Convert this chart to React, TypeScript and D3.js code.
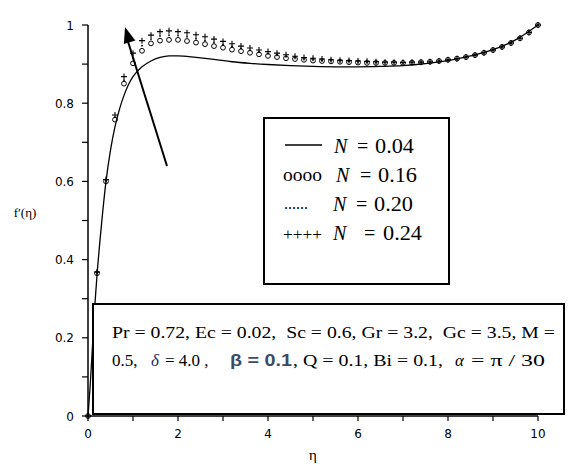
import React from "react";
import * as d3 from "d3";

// ---- data ----
const solidEta = [0, 0.05, 0.1, 0.15, 0.2, 0.3, 0.4, 0.5, 0.6, 0.7, 0.8, 0.9, 1.0, 1.2, 1.4, 1.6, 1.8, 2.0, 2.4, 2.8, 3.2, 3.6, 4.0, 4.5, 5.0, 5.5, 6.0, 6.5, 7.0, 7.5, 8.0, 8.5, 9.0, 9.5, 10];
const solidN004 = [0, 0.08, 0.18, 0.28, 0.36, 0.49, 0.6, 0.68, 0.74, 0.785, 0.82, 0.848, 0.868, 0.893, 0.908, 0.917, 0.921, 0.921, 0.917, 0.912, 0.906, 0.902, 0.899, 0.896, 0.894, 0.893, 0.893, 0.894, 0.896, 0.901, 0.909, 0.921, 0.937, 0.962, 1.0];

const markerEta = [0, 0.2, 0.4, 0.6, 0.8, 1.0, 1.2, 1.4, 1.6, 1.8, 2.0, 2.2, 2.4, 2.6, 2.8, 3.0, 3.2, 3.4, 3.6, 3.8, 4.0, 4.2, 4.4, 4.6, 4.8, 5.0, 5.2, 5.4, 5.6, 5.8, 6.0, 6.2, 6.4, 6.6, 6.8, 7.0, 7.2, 7.4, 7.6, 7.8, 8.0, 8.2, 8.4, 8.6, 8.8, 9.0, 9.2, 9.4, 9.6, 9.8, 10];
const circN016 = [0, 0.365, 0.6, 0.758, 0.85, 0.902, 0.934, 0.953, 0.96, 0.962, 0.962, 0.959, 0.955, 0.951, 0.946, 0.942, 0.937, 0.933, 0.929, 0.925, 0.921, 0.918, 0.915, 0.913, 0.911, 0.909, 0.908, 0.907, 0.906, 0.905, 0.904, 0.903, 0.903, 0.903, 0.903, 0.903, 0.904, 0.905, 0.906, 0.908, 0.911, 0.914, 0.918, 0.923, 0.929, 0.936, 0.944, 0.954, 0.966, 0.981, 1.0];
const dotN020 = [0, 0.366, 0.602, 0.764, 0.859, 0.915, 0.947, 0.964, 0.972, 0.974, 0.973, 0.97, 0.965, 0.96, 0.955, 0.95, 0.945, 0.94, 0.935, 0.931, 0.927, 0.923, 0.92, 0.917, 0.914, 0.912, 0.91, 0.909, 0.908, 0.907, 0.906, 0.905, 0.904, 0.904, 0.904, 0.903, 0.904, 0.905, 0.906, 0.908, 0.911, 0.914, 0.918, 0.923, 0.929, 0.936, 0.944, 0.954, 0.966, 0.981, 1.0];
const plusN024 = [0, 0.368, 0.605, 0.77, 0.868, 0.928, 0.96, 0.974, 0.983, 0.985, 0.983, 0.98, 0.975, 0.97, 0.964, 0.958, 0.952, 0.946, 0.941, 0.936, 0.932, 0.928, 0.924, 0.92, 0.917, 0.915, 0.913, 0.911, 0.91, 0.909, 0.908, 0.907, 0.906, 0.905, 0.905, 0.904, 0.905, 0.905, 0.906, 0.908, 0.911, 0.914, 0.918, 0.923, 0.929, 0.936, 0.944, 0.954, 0.966, 0.981, 1.0];

const xTicks = [0, 2, 4, 6, 8, 10];
const xMinor = [1, 3, 5, 7, 9];
const yTicks = [0, 0.2, 0.4, 0.6, 0.8, 1];
const yMinor = [0.1, 0.3, 0.5, 0.7, 0.9];

const legendLabels = ["0.04", "0.16", "0.20", "0.24"];

// ---- layout ----
const W = 578, H = 471;
const x = d3.scaleLinear().domain([0, 10]).range([88, 538]);
const y = d3.scaleLinear().domain([0, 1]).range([416, 25]);

const serif = "Liberation Serif, Times New Roman, Times, serif";
const sans = "DejaVu Sans, Verdana, sans-serif";

export default function App() {
  const line = d3.line<number>().x((_, i) => x(solidEta[i])).y((d) => y(d)).curve(d3.curveMonotoneX);
  const arrowHead = (() => {
    const tx = 125, ty = 27, sx = 167, sy = 166;
    const ang = Math.atan2(sy - ty, sx - tx);
    const L = 16, hw = 6;
    const bx = tx + L * Math.cos(ang), by = ty + L * Math.sin(ang);
    const px = -Math.sin(ang) * hw, py = Math.cos(ang) * hw;
    return `M${tx},${ty}L${bx + px},${by + py}L${bx - px},${by - py}Z`;
  })();
  return (
    <svg width={W} height={H} style={{ position: "absolute", left: 0, top: 0, background: "#fff" }}>
      <rect x={0} y={0} width={W} height={H} fill="#fff" />
      {/* axes */}
      <line x1={x(0)} x2={x(0)} y1={y(1)} y2={y(0)} stroke="#000" strokeWidth={1.5} />
      <line x1={x(0)} x2={x(10)} y1={y(0)} y2={y(0)} stroke="#000" strokeWidth={1.5} />
      {[...yTicks, ...yMinor].map((t) => (
        <line key={"yt" + t} x1={x(0) - 6} x2={x(0)} y1={y(t)} y2={y(t)} stroke="#000" strokeWidth={1.2} />
      ))}
      {[...xTicks, ...xMinor].map((t) => (
        <line key={"xt" + t} x1={x(t)} x2={x(t)} y1={y(0)} y2={y(0) + 5} stroke="#000" strokeWidth={1.2} />
      ))}
      {yTicks.map((t) => (
        <text key={"yl" + t} x={74} y={y(t) + 4.5} textAnchor="end" fontFamily={sans} fontSize={12} fill="#000">
          {t === 0 || t === 1 ? String(t) : t.toFixed(1)}
        </text>
      ))}
      {xTicks.map((t) => (
        <text key={"xl" + t} x={x(t)} y={438} textAnchor="middle" fontFamily={sans} fontSize={12} fill="#000">
          {t}
        </text>
      ))}
      <text x={313} y={460} textAnchor="middle" fontFamily={serif} fontSize={15}>η</text>
      <text x={25} y={217} textAnchor="middle" fontFamily={serif} fontSize={13}>f′(η)</text>

      {/* solid curve N=0.04 */}
      <path d={line(solidN004) || ""} fill="none" stroke="#000" strokeWidth={1.3} />

      {/* markers */}
      {markerEta.map((e, i) => (
        <circle key={"c" + i} cx={x(e)} cy={y(circN016[i])} r={2.4} fill="none" stroke="#000" strokeWidth={1} />
      ))}
      {markerEta.map((e, i) => (
        <circle key={"d" + i} cx={x(e)} cy={y(dotN020[i])} r={0.9} fill="#000" />
      ))}
      {markerEta.map((e, i) => {
        const cx = x(e), cy = y(plusN024[i]);
        return (
          <path key={"p" + i} d={`M${cx - 3},${cy}H${cx + 3}M${cx},${cy - 3}V${cy + 3}`} stroke="#000" strokeWidth={1.1} />
        );
      })}

      {/* legend box */}
      <rect x={264} y={118} width={185} height={166} fill="#fff" stroke="#000" strokeWidth={2} />
      <line x1={285} x2={322} y1={145} y2={145} stroke="#000" strokeWidth={1.5} />
      <text x={283} y={181} fontFamily={serif} fontSize={18} textLength={39} lengthAdjust="spacingAndGlyphs">oooo</text>
      <text x={284} y={209} fontFamily={serif} fontSize={16} textLength={24} lengthAdjust="spacingAndGlyphs">......</text>
      <text x={283} y={240} fontFamily={serif} fontSize={17} textLength={39} lengthAdjust="spacingAndGlyphs">++++</text>
      {legendLabels.map((lab, i) => {
        const by = [153, 182, 211, 240][i];
        const nx = [334, 336, 333, 333][i];
        const ex = [357, 360, 356, 364][i];
        const vx = [375, 378, 374, 383][i];
        return (
          <g key={"lg" + i} fontFamily={serif} fontSize={20} fill="#000">
            <text x={nx} y={by} fontStyle="italic">N</text>
            <text x={ex} y={by}>=</text>
            <text x={vx} y={by} textLength={39} lengthAdjust="spacingAndGlyphs">{lab}</text>
          </g>
        );
      })}

      {/* parameter box */}
      <rect x={93} y={304} width={471} height={110} fill="#fff" stroke="#000" strokeWidth={2} />
      <text x={112} y={338} fontFamily={serif} fontSize={17} textLength={443} lengthAdjust="spacingAndGlyphs" xmlSpace="preserve">
        Pr = 0.72, Ec = 0.02,  Sc = 0.6, Gr = 3.2,  Gc = 3.5, M =
      </text>
      <g fontFamily={serif} fontSize={17} fill="#000">
        <text x={112} y={366}>0.5,</text>
        <text x={151} y={366} fontStyle="italic" fill="#1b2a6b">δ</text>
        <text x={165} y={366} xmlSpace="preserve">= 4.0 ,</text>
        <text x={230} y={366} fontFamily="Liberation Sans, Arial, sans-serif" fontWeight="bold" fill="#3b4a66" textLength={62} lengthAdjust="spacingAndGlyphs">β = 0.1</text>
        <text x={293} y={366} xmlSpace="preserve" textLength={150} lengthAdjust="spacingAndGlyphs">, Q = 0.1, Bi = 0.1,</text>
        <text x={455} y={366} fontStyle="italic">α</text>
        <text x={471} y={366} xmlSpace="preserve" textLength={74} lengthAdjust="spacingAndGlyphs">= π / 30</text>
      </g>

      {/* arrow */}
      <line x1={167} y1={166} x2={127.5} y2={40} stroke="#000" strokeWidth={2} />
      <path d={arrowHead} fill="#000" />
    </svg>
  );
}
